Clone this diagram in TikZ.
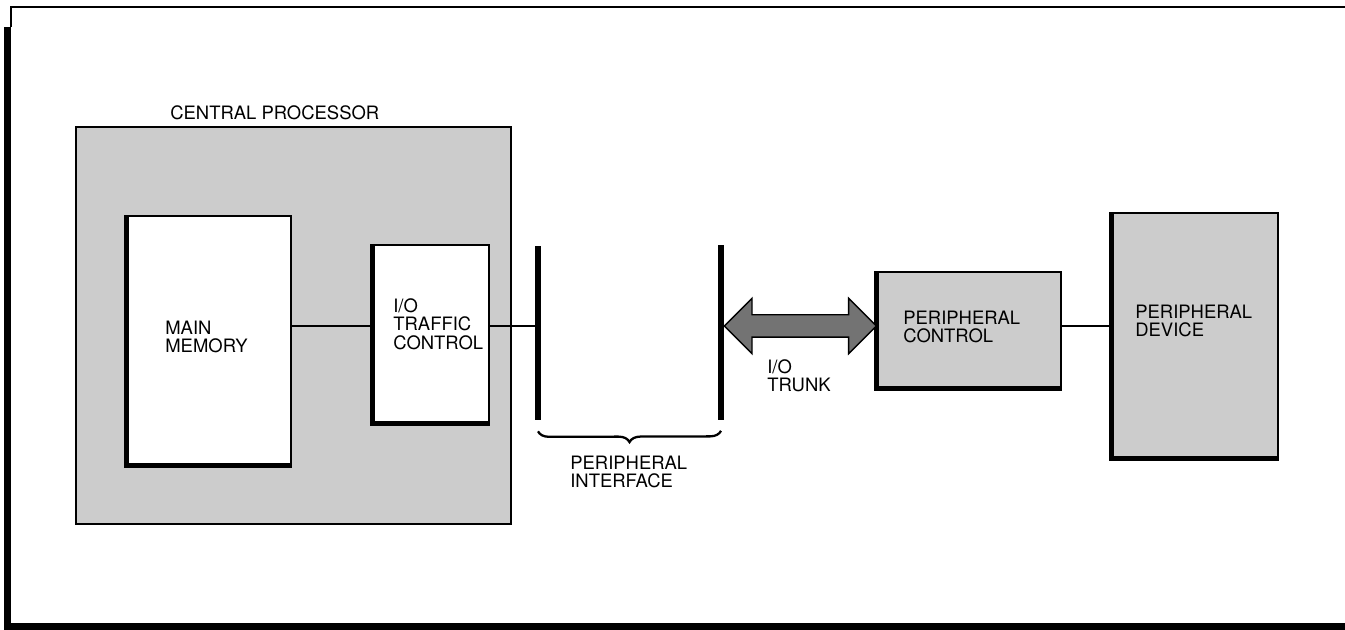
\documentclass[tikz,border=0pt]{standalone}
\usepackage{fontspec}
\setmainfont{TeX Gyre Heros}
\usetikzlibrary{shapes.arrows,decorations.pathreplacing,calc}

\begin{document}
\begin{tikzpicture}[
    blk/.style={draw, line width=0.8pt, inner sep=0pt},
    lbl/.style={font=\fontsize{10.5}{10.5}\selectfont, align=left, anchor=west, inner sep=0pt},
    wire/.style={line width=0.8pt},
    halftone/.style={fill=black!20},
    bar/.style={fill=black, inner sep=0pt, minimum width=0.12cm, minimum height=3.48cm}
]
\useasboundingbox (0,0) rectangle (26.9,12.58);

% Page frame
\draw[line width=0.6pt] (0.22,12.04) -- (0.22,12.44) -- (26.9,12.44);
\draw[line width=4.2pt] (0.15,12.04) -- (0.15,0.04) -- (26.9,0.04);

% Central processor
\node[blk, halftone, minimum width=8.70cm, minimum height=7.94cm] (cp) at (5.87,6.07) {};
\node[lbl] (cplbl) at (3.40,10.32) {CENTRAL PROCESSOR};

\node[blk, fill=white, minimum width=3.28cm, minimum height=4.98cm] (mem) at (4.18,5.77) {};
\node[lbl] (memlbl) at (3.30,5.84) {MAIN\\MEMORY};

\node[blk, fill=white, minimum width=2.32cm, minimum height=3.56cm] (io) at (8.62,5.90) {};
\node[lbl] (iolbl) at (7.86,6.10) {I/O\\TRAFFIC\\CONTROL};

% Peripheral side
\node[blk, halftone, minimum width=3.68cm, minimum height=2.32cm] (pc) at (19.38,5.98) {};
\node[lbl] (pclbl) at (18.06,6.04) {PERIPHERAL\\CONTROL};

\node[blk, halftone, minimum width=3.32cm, minimum height=4.90cm] (pd) at (23.90,5.87) {};
\node[lbl] (pdlbl) at (22.70,6.16) {PERIPHERAL\\DEVICE};

% heavy left and bottom edges
\foreach \b in {mem,io,pc,pd}
    \draw[line width=2.8pt] (\b.north west) |- (\b.south east);

% Peripheral interface
\node[bar] (pil) at (10.76,5.92) {};
\node[bar] (pir) at (14.42,5.93) {};
\draw[line width=1.3pt, decorate, decoration={brace, amplitude=0.22cm, aspect=0.5}]
    ([yshift=-0.22cm]pir.south) -- ([yshift=-0.22cm]pil.south);
\node[lbl] (pilbl) at (11.40,3.14) {PERIPHERAL\\INTERFACE};

% Connections
\coordinate (bus) at (0,6.06);
\draw[wire] (mem.east |- bus) -- (io.west |- bus);
\draw[wire] (io.east |- bus) -- (pil.west |- bus);
\draw[wire] (pc.east |- bus) -- (pd.west |- bus);

% I/O trunk
\node[double arrow, draw, fill=black!55, line width=0.8pt, inner sep=0pt,
      minimum height=3.04cm, double arrow head extend=0.33cm]
    (trunk) at ($(pir.east |- bus)!0.5!(pc.west |- bus)$) {\rule{0pt}{0.42cm}};
\node[lbl] (trunklbl) at (15.34,5.06) {I/O\\TRUNK};

\end{tikzpicture}
\end{document}
